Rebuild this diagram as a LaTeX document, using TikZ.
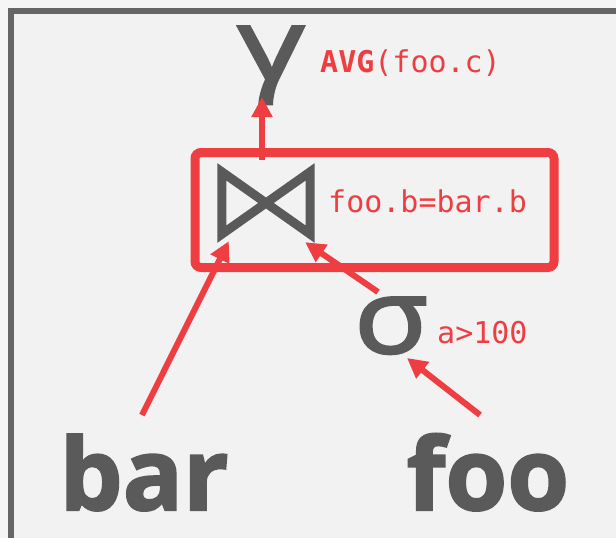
\documentclass[tikz,border=0pt]{standalone}
\usepackage{fontspec}
\usepackage{tikz}
\usetikzlibrary{arrows.meta}
\setmonofont{DejaVu Sans Mono}
\newfontfamily\symfont[FakeBold=2.5]{Open Sans}
\newfontfamily\heavyfont[BoldFeatures={FakeBold=2}]{Open Sans}
\definecolor{opgray}{RGB}{90,90,90}
\definecolor{opred}{RGB}{239,62,66}
\definecolor{framegray}{RGB}{102,102,102}
\definecolor{panel}{RGB}{242,242,242}
\tikzset{every picture/.style={x=1pt, y=-1pt}}
\tikzset{opsym/.style={inner sep=0pt, text=opgray, font=\symfont\fontsize{#1}{#1}\selectfont}}
\tikzset{relname/.style={inner sep=0pt, text=opgray, font=\heavyfont\bfseries\fontsize{100}{100}\selectfont}}
\tikzset{cond/.style={inner sep=0pt, text=opred, font=\ttfamily\fontsize{30}{30}\selectfont}}
\tikzset{flow/.style={draw=opred, line width=6pt, -{Triangle[width=20pt,length=20pt]}}}

\begin{document}
\begin{tikzpicture}
\useasboundingbox (0,0) rectangle (616,538);
\fill[white!96!black] (0,0) rectangle (616,538);
\draw[framegray, fill=panel, line width=6pt] (11,11) rectangle (621,541);
% operators
\node[opsym=100, xscale=1.3, anchor=base] (gamma) at (271,80) {γ};
\node[cond, anchor=base west] (avg) at (320,72) {\textbf{AVG}(foo.c)};
\node[inner sep=0pt, minimum width=88pt, minimum height=62pt] (join) at (266,203) {};
\draw[opgray, line width=9pt, line join=miter] (join.north west) -- (join.south east) -- (join.north east) -- (join.south west) -- cycle;
\node[cond, anchor=base west] (pred) at (328,212) {foo.b=bar.b};
\draw[opred, line width=9pt, rounded corners=6pt] (195,152.5) rectangle (554,267.5);
\node[opsym=104, xscale=1.15, anchor=base] (sigma) at (391,353) {σ};
\node[cond, anchor=base west] (filt) at (437,343) {a>100};
% tables
\node[relname, anchor=base] (bar) at (144,510) {bar};
\node[relname, anchor=base] (foo) at (488,510) {foo};
% edges
\draw[flow] ([xshift=-4pt,yshift=12pt]join.north) -- ([xshift=-9pt,yshift=-17pt]gamma.base);
\draw[flow] ([xshift=-2pt,yshift=95pt]bar.base) -- ([xshift=7pt,yshift=-7pt]join.south west);
\draw[flow] ([xshift=-13pt,yshift=61pt]sigma.base) -- ([xshift=-5pt,yshift=-8pt]join.south east);
\draw[flow] ([xshift=-8pt,yshift=95pt]foo.base) -- ([xshift=16pt,yshift=-5pt]sigma.base);
\end{tikzpicture}
\end{document}
